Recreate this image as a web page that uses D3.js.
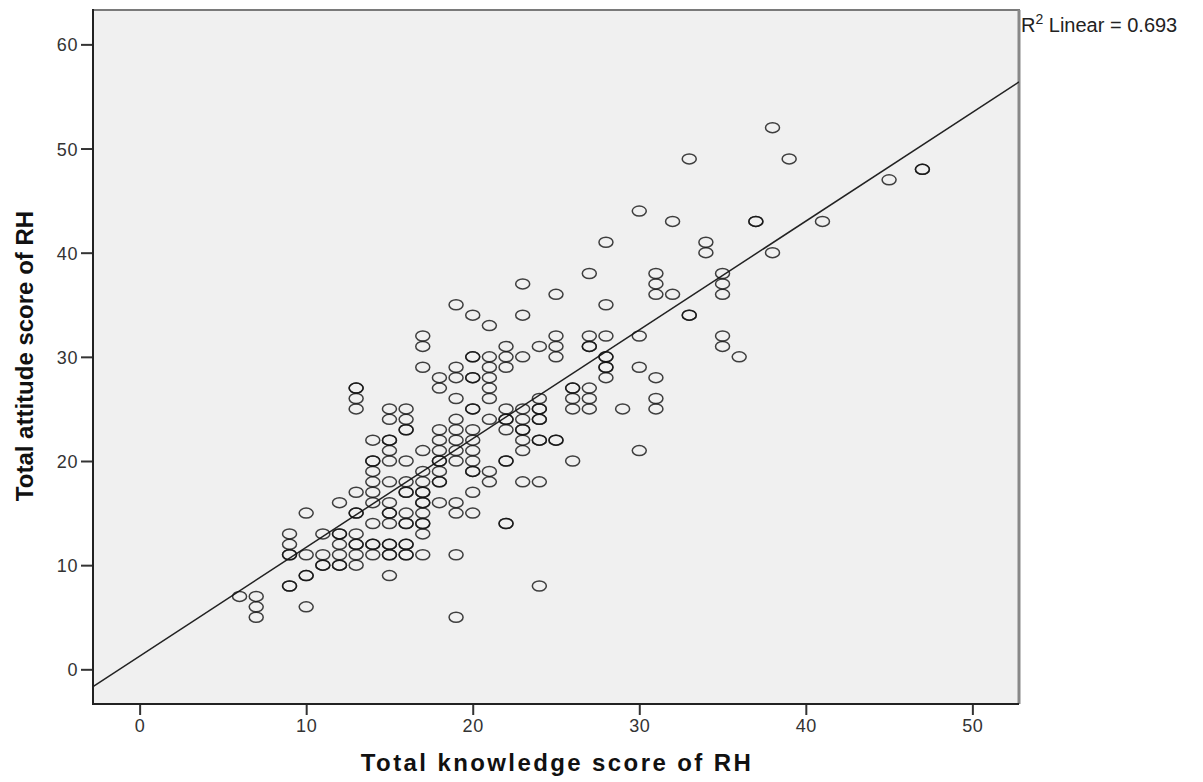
<!DOCTYPE html>
<html>
<head>
<meta charset="utf-8">
<script src="https://cdn.jsdelivr.net/npm/d3@7"></script>
<style>
  body { margin: 0; background: #fff; }
  svg { display: block; }
</style>
</head>
<body>
<svg width="1203" height="782"></svg>
<script>
// Data (duplicated pairs are the darker circles)
const knowledgeScore = [
  6,
  7, 7, 7,
  9, 9, 9, 9, 9, 9,
  10, 10, 10, 10, 10,
  11, 11, 11, 11,
  12, 12, 12, 12, 12, 12, 12,
  13, 13, 13, 13, 13, 13, 13, 13, 13, 13, 13, 13,
  14, 14, 14, 14, 14, 14, 14, 14, 14, 14, 14,
  15, 15, 15, 15, 15, 15, 15, 15, 15, 15, 15, 15, 15, 15, 15, 15,
  16, 16, 16, 16, 16, 16, 16, 16, 16, 16, 16, 16, 16, 16, 16,
  17, 17, 17, 17, 17, 17, 17, 17, 17, 17, 17, 17, 17, 17, 17,
  18, 18, 18, 18, 18, 18, 18, 18, 18, 18, 18,
  19, 19, 19, 19, 19, 19, 19, 19, 19, 19, 19, 19, 19,
  20, 20, 20, 20, 20, 20, 20, 20, 20, 20, 20, 20, 20, 20, 20,
  21, 21, 21, 21, 21, 21, 21, 21, 21,
  22, 22, 22, 22, 22, 22, 22, 22, 22, 22, 22,
  23, 23, 23, 23, 23, 23, 23, 23, 23, 23,
  24, 24, 24, 24, 24, 24, 24, 24, 24, 24,
  25, 25, 25, 25, 25, 25,
  26, 26, 26, 26, 26,
  27, 27, 27, 27, 27, 27, 27,
  28, 28, 28, 28, 28, 28, 28, 28,
  29,
  30, 30, 30, 30,
  31, 31, 31, 31, 31, 31,
  32, 32,
  33, 33, 33,
  34, 34,
  35, 35, 35, 35, 35,
  36,
  37, 37,
  38, 38,
  39,
  41,
  45,
  47, 47
];
const attitudeScore = [
  7,
  7, 6, 5,
  13, 12, 11, 11, 8, 8,
  15, 11, 9, 9, 6,
  13, 11, 10, 10,
  16, 13, 13, 12, 11, 10, 10,
  27, 27, 26, 25, 17, 15, 15, 13, 12, 12, 11, 10,
  22, 20, 20, 19, 18, 17, 16, 14, 12, 12, 11,
  25, 24, 22, 22, 21, 20, 18, 16, 15, 15, 14, 12, 12, 11, 11, 9,
  25, 24, 23, 23, 20, 18, 17, 17, 15, 14, 14, 12, 12, 11, 11,
  32, 31, 29, 21, 19, 18, 17, 17, 16, 16, 15, 14, 14, 13, 11,
  28, 27, 23, 22, 21, 20, 20, 19, 18, 18, 16,
  35, 29, 28, 26, 24, 23, 22, 21, 20, 16, 15, 11, 5,
  34, 30, 30, 28, 28, 25, 25, 23, 22, 21, 20, 19, 19, 17, 15,
  33, 30, 29, 28, 27, 26, 24, 19, 18,
  31, 30, 29, 25, 24, 24, 23, 20, 20, 14, 14,
  37, 34, 30, 25, 24, 23, 23, 22, 21, 18,
  31, 26, 25, 25, 24, 24, 22, 22, 18, 8,
  36, 32, 31, 30, 22, 22,
  27, 27, 26, 25, 20,
  38, 32, 31, 31, 27, 26, 25,
  41, 35, 32, 30, 30, 29, 29, 28,
  25,
  44, 32, 29, 21,
  38, 37, 36, 28, 26, 25,
  43, 36,
  49, 34, 34,
  41, 40,
  38, 37, 36, 32, 31,
  30,
  43, 43,
  52, 40,
  49,
  43,
  47,
  48, 48
];
const xTicks = [0, 10, 20, 30, 40, 50];
const yTicks = [0, 10, 20, 30, 40, 50, 60];

// Fit line as drawn in the picture
const fitIntercept = 1.27;
const fitSlope = 1.044;
const rSquared = "0.693";

const svg = d3.select("svg");
const plotLeft = 93, plotRight = 1019, plotTop = 10, plotBottom = 704;
const font = "'Liberation Sans', Arial, sans-serif";

const x = d3.scaleLinear().domain([-2.8, 52.8]).range([plotLeft, plotRight]);
const y = d3.scaleLinear().domain([-3.33, 63.3]).range([plotBottom, plotTop]);

// plot background
svg.append("rect")
  .attr("x", plotLeft).attr("y", plotTop)
  .attr("width", plotRight - plotLeft).attr("height", plotBottom - plotTop)
  .style("fill", "#f0f0f0");

svg.append("defs").append("clipPath").attr("id", "clip")
  .append("rect")
  .attr("x", plotLeft).attr("y", plotTop)
  .attr("width", plotRight - plotLeft).attr("height", plotBottom - plotTop);

// frame: top and right in gray
svg.append("line").attr("x1", plotLeft).attr("x2", plotRight + 1).attr("y1", plotTop).attr("y2", plotTop)
  .style("stroke", "#7a7a7a").style("stroke-width", 2);
svg.append("line").attr("x1", plotRight).attr("x2", plotRight).attr("y1", plotTop).attr("y2", plotBottom)
  .style("stroke", "#888").style("stroke-width", 3);

// regression line
const xd = x.domain();
svg.append("line")
  .attr("clip-path", "url(#clip)")
  .attr("x1", x(xd[0])).attr("y1", y(fitIntercept + fitSlope * xd[0]))
  .attr("x2", x(xd[1])).attr("y2", y(fitIntercept + fitSlope * xd[1]))
  .style("stroke", "#222").style("stroke-width", 1.5);

// points
const points = knowledgeScore.map((k, i) => ({ x: k, y: attitudeScore[i] }));
svg.append("g")
  .selectAll("ellipse")
  .data(points)
  .enter()
  .append("ellipse")
  .attr("cx", (d) => x(d.x))
  .attr("cy", (d) => y(d.y))
  .attr("rx", 7)
  .attr("ry", 5)
  .style("fill", "none")
  .style("stroke", "#111")
  .style("stroke-opacity", 0.8)
  .style("stroke-width", 1.5);

// axes
const xAxis = d3.axisBottom(x).tickValues(xTicks).tickSize(11).tickPadding(4);
const yAxis = d3.axisLeft(y).tickValues(yTicks).tickSize(12).tickPadding(3);

const gx = svg.append("g")
  .attr("transform", "translate(0," + plotBottom + ")")
  .call(xAxis);
const gy = svg.append("g")
  .attr("transform", "translate(" + plotLeft + ",0)")
  .call(yAxis);

[gx, gy].forEach((g) => {
  g.select(".domain").remove();
  g.selectAll(".tick line").style("stroke", "#333").style("stroke-width", 2);
  g.selectAll(".tick text")
    .style("font-family", font)
    .style("font-size", "18px")
    .style("letter-spacing", "0.6px")
    .style("fill", "#333");
});
gy.selectAll(".tick text").attr("dy", "0.36em");

// axis lines in black
svg.append("line").attr("x1", plotLeft).attr("x2", plotLeft).attr("y1", plotTop - 1).attr("y2", plotBottom + 1)
  .style("stroke", "#222").style("stroke-width", 2);
svg.append("line").attr("x1", plotLeft).attr("x2", plotRight).attr("y1", plotBottom).attr("y2", plotBottom)
  .style("stroke", "#222").style("stroke-width", 2);

// titles
svg.append("text")
  .attr("x", 557)
  .attr("y", 771)
  .attr("text-anchor", "middle")
  .style("font-family", font)
  .style("font-weight", "bold")
  .style("font-size", "24px")
  .style("letter-spacing", "2.4px")
  .style("fill", "#111")
  .text("Total knowledge score of RH");

svg.append("text")
  .attr("transform", "translate(33,356) rotate(-90)")
  .attr("text-anchor", "middle")
  .style("font-family", font)
  .style("font-weight", "bold")
  .style("font-size", "24px")
  .style("fill", "#111")
  .text("Total attitude score of RH");

// R squared label
const r2 = svg.append("text")
  .attr("x", 1021)
  .attr("y", 32)
  .style("font-family", font)
  .style("font-size", "20px")
  .style("fill", "#222");
r2.append("tspan").text("R");
r2.append("tspan").attr("dy", -8).style("font-size", "14px").text("2");
r2.append("tspan").attr("dy", 8).text(" Linear = " + rSquared);
</script>
</body>
</html>
